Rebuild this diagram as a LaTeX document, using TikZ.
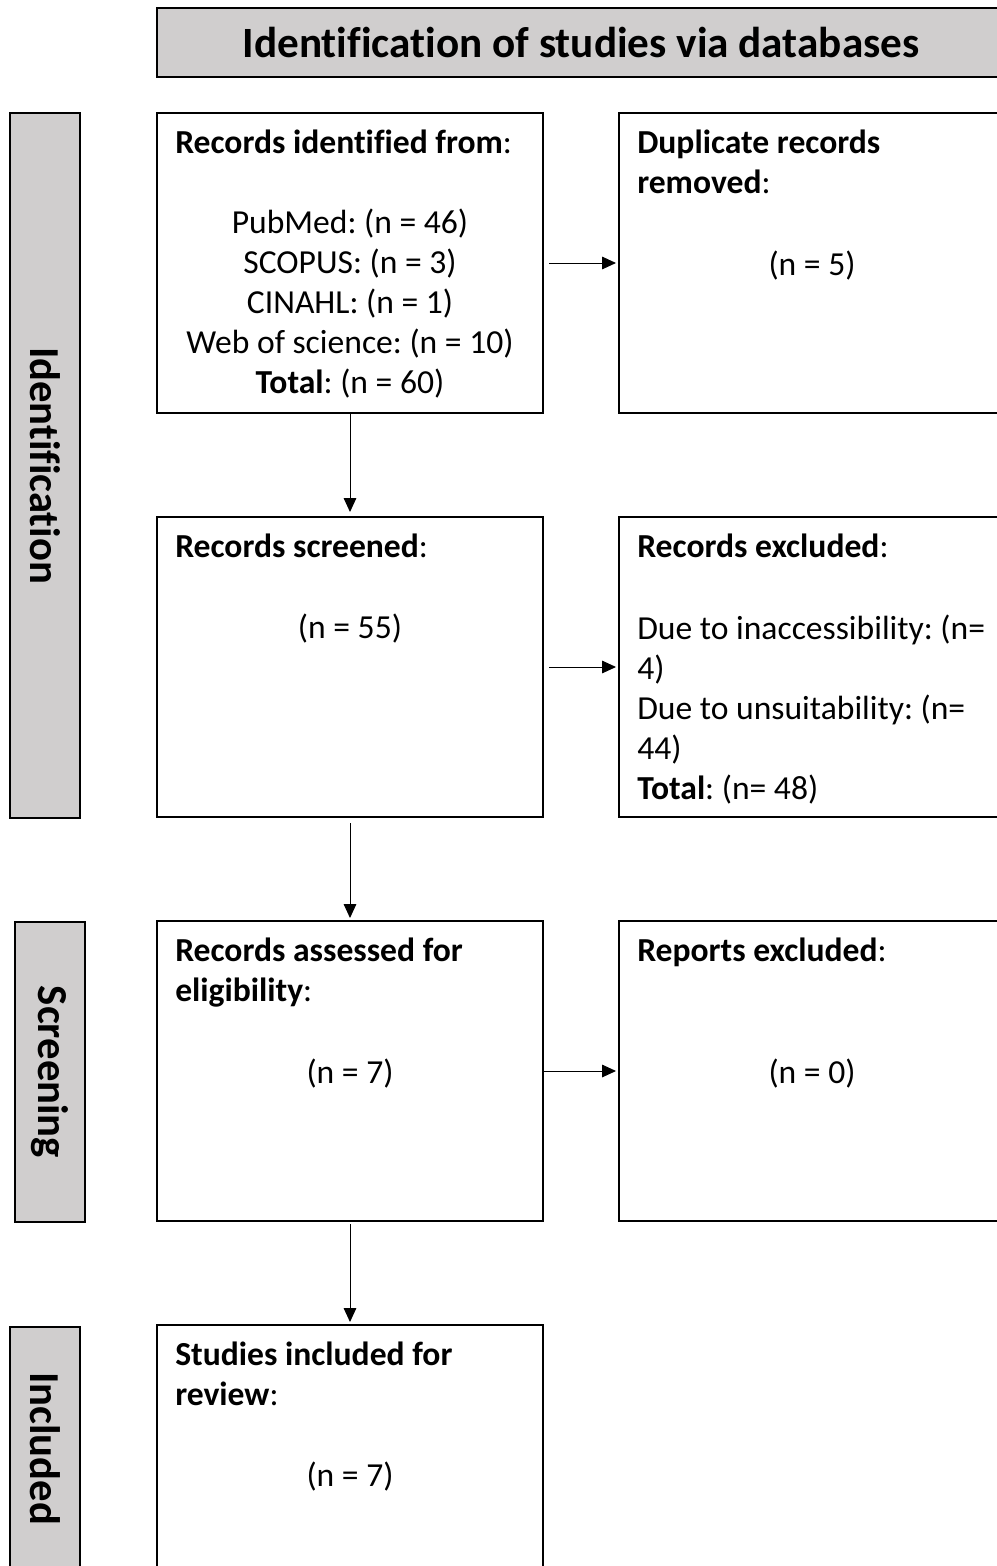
\documentclass[tikz,border=0pt]{standalone}
\usepackage{fontspec}
\setmainfont{Carlito}[Ligatures=NoCommon]
\usetikzlibrary{positioning,arrows.meta}
\definecolor{phasegray}{RGB}{208,206,206}
\frenchspacing

\begin{document}
\begin{tikzpicture}[x=0.75pt, y=-0.75pt,
    box/.style={draw, line width=1.5pt, minimum width=289.5pt, minimum height=225pt, inner sep=0pt},
    phase/.style={draw, line width=1.5pt, fill=phasegray, rotate=-90, minimum height=52.5pt,
      inner sep=0pt, font=\fontsize{32}{38}\selectfont\bfseries},
    title/.style={draw, line width=1.5pt, fill=phasegray, minimum width=636pt, minimum height=51.75pt,
      inner sep=0pt, font=\fontsize{32.4}{38}\selectfont\bfseries},
    head/.style={anchor=north west, align=left, inner sep=0pt, font=\fontsize{25.2}{30}\selectfont},
    num/.style={inner sep=0pt, font=\fontsize{25.2}{30}\selectfont},
    arr/.style={-{Triangle[length=10.5pt,width=9.5pt]}, line width=0.75pt},
    node distance=76.5pt and 55.5pt]
  \useasboundingbox (0,0) rectangle (996,1566);

  % title and phases
  \node[title] (top) at (581,42.5) {Identification of studies via databases};
  \node[phase, minimum width=528.75pt] (idph) at (45,465.5) {Identification};
  \node[phase, minimum width=225pt] (scph) at (49.5,1072) {Screening};
  \node[phase, minimum width=182.25pt] (inph) at (45,1448.5) {Included};

  % boxes
  \node[box] (ident) at (350,263) {};
  \node[box, right=of ident] (dupl) {};
  \node[box, below=of ident] (scrn) {};
  \node[box, right=of scrn] (excl) {};
  \node[box, below=of scrn] (elig) {};
  \node[box, right=of elig] (rept) {};
  \node[box, below=of elig] (incl) {};

  % texts
  \node[head] (identT) at ([shift={(19,18)}]ident.north west) {\textbf{Records identified from}:};
  \node[num, align=center] (identN) at ([shift={(0,41)}]ident.center)
    {PubMed: (n = 46)\\SCOPUS: (n = 3)\\CINAHL: (n = 1)\\Web of science: (n = 10)\\\textbf{Total}: (n = 60)};
  \node[head] (duplT) at ([shift={(19,18)}]dupl.north west) {\textbf{Duplicate records}\\\textbf{removed}:};
  \node[num] (duplN) at ([shift={(0,3)}]dupl.center) {(n = 5)};
  \node[head] (scrnT) at ([shift={(19,18)}]scrn.north west) {\textbf{Records screened}:};
  \node[num] (scrnN) at ([shift={(0,-38)}]scrn.center) {(n = 55)};
  \node[head] (exclT) at ([shift={(19,18)}]excl.north west) {\textbf{Records excluded}:};
  \node[head] (exclL) at ([shift={(19,99)}]excl.north west)
    {Due to inaccessibility: (n=\\4)\\Due to unsuitability: (n=\\44)\\\textbf{Total}: (n= 48)};
  \node[head] (eligT) at ([shift={(19,18)}]elig.north west) {\textbf{Records assessed for}\\\textbf{eligibility}:};
  \node[num] (eligN) at ([shift={(0,3)}]elig.center) {(n = 7)};
  \node[head] (reptT) at ([shift={(19,18)}]rept.north west) {\textbf{Reports excluded}:};
  \node[num] (reptN) at ([shift={(0,3)}]rept.center) {(n = 0)};
  \node[head] (inclT) at ([shift={(19,18)}]incl.north west) {\textbf{Studies included for}\\\textbf{review}:};
  \node[num] (inclN) at ([shift={(0,2)}]incl.center) {(n = 7)};

  % arrows
  \draw[arr, shorten <=3.75pt, shorten >=1.5pt] (ident) -- (dupl);
  \draw[arr, shorten >=3pt] (ident) -- (scrn);
  \draw[arr, shorten <=3.75pt, shorten >=1.5pt] (scrn) -- (excl);
  \draw[arr, shorten <=3.75pt, shorten >=1.5pt] (scrn) -- (elig);
  \draw[arr, shorten >=1.5pt] (elig) -- (rept);
  \draw[arr, shorten <=1.5pt, shorten >=1.5pt] (elig) -- (incl);
\end{tikzpicture}
\end{document}
